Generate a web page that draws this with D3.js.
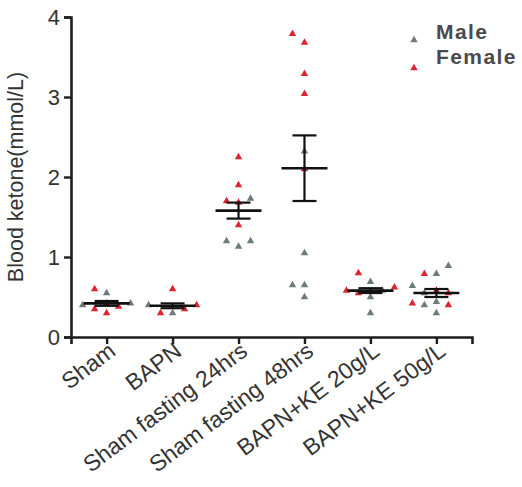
<!DOCTYPE html>
<html>
<head>
<meta charset="utf-8">
<script src="https://cdn.jsdelivr.net/npm/d3@7"></script>
<style>
  html, body { margin: 0; padding: 0; background: #fff; }
  svg { display: block; }
  text { font-family: "Liberation Sans", Arial, sans-serif; }
</style>
</head>
<body>
<svg id="chart" width="522" height="487"></svg>
<script>
// ---- data ----
const categories = ["Sham", "BAPN", "Sham fasting 24hrs", "Sham fasting 48hrs", "BAPN+KE 20g/L", "BAPN+KE 50g/L"];
const maleValues = [
  [0.55, 0.42, 0.40],
  [0.30, 0.40],
  [1.73, 1.20, 1.13, 1.20],
  [2.32, 1.05, 0.65, 0.65, 0.50],
  [0.69, 0.58, 0.50, 0.30],
  [0.89, 0.79, 0.64, 0.44, 0.40, 0.30, 0.55]
];
const femaleValues = [
  [0.60, 0.30, 0.35, 0.38, 0.42],
  [0.60, 0.35, 0.30, 0.40],
  [2.25, 1.90, 1.70, 1.68, 1.40],
  [3.79, 3.68, 3.29, 3.04, 2.10],
  [0.80, 0.62, 0.58, 0.55],
  [0.79, 0.58, 0.55, 0.42, 0.40]
];
const means = [0.42, 0.39, 1.58, 2.11, 0.58, 0.55];
const sems  = [0.03, 0.03, 0.10, 0.41, 0.03, 0.05];
const yTicks = [0, 1, 2, 3, 4];
const seriesNames = ["Male", "Female"];
const yTitle = "Blood ketone(mmol/L)";

// ---- styles ----
const colors = { Male: "#6d7c79", Female: "#dd2430" };
const axisColor = "#1e1e1e";
const textColor = "#333";

const svg = d3.select("#chart");
svg.append("rect").attr("width", 522).attr("height", 487).attr("fill", "#fff");

const x = d3.scalePoint().domain(categories).range([71, 472]).padding(0.54);
const y = d3.scaleLinear().domain([0, 4]).range([337, 17]);

const tri = d3.symbol().type(d3.symbolTriangle).size(24);

// ---- beeswarm-like layout computed from the data ----
const points = [];
categories.forEach((c, i) => {
  const pts = [];
  maleValues[i].forEach(v => pts.push({ cat: c, v, s: "Male" }));
  femaleValues[i].forEach(v => pts.push({ cat: c, v, s: "Female" }));
  pts.sort((a, b) => a.v - b.v);
  const placed = [];
  const step = 12;
  pts.forEach(p => {
    const py = y(p.v);
    p.py = py;
    p.px = x(c);
    for (const k of [0, -1, 1, -2, 2]) {
      const px = x(c) + k * step;
      const hit = placed.some(q => Math.abs(q.py - py) < 10 && Math.abs(q.px - px) < 10);
      if (!hit) { p.px = px; break; }
    }
    placed.push(p);
    points.push(p);
  });
});

const gPts = svg.append("g");
gPts.selectAll("path").data(points).enter().append("path")
  .attr("d", tri)
  .attr("transform", d => `translate(${d.px},${d.py})`)
  .attr("fill", d => colors[d.s]);

// ---- mean and SEM bars ----
const gStats = svg.append("g").attr("stroke", "#111").attr("fill", "none");
categories.forEach((c, i) => {
  const cx = x(c);
  const top = y(means[i] + sems[i]);
  const bot = y(means[i] - sems[i]);
  gStats.append("line").attr("x1", cx).attr("x2", cx).attr("y1", top).attr("y2", bot).attr("stroke-width", 2.2);
  gStats.append("line").attr("x1", cx - 12).attr("x2", cx + 12).attr("y1", top).attr("y2", top).attr("stroke-width", 2.2);
  gStats.append("line").attr("x1", cx - 12).attr("x2", cx + 12).attr("y1", bot).attr("y2", bot).attr("stroke-width", 2.2);
  gStats.append("line").attr("x1", cx - 23).attr("x2", cx + 23).attr("y1", y(means[i])).attr("y2", y(means[i])).attr("stroke-width", 2.6);
});

// ---- axes ----
const yAxis = svg.append("g").attr("transform", "translate(71,0)")
  .call(d3.axisLeft(y).tickValues(yTicks).tickFormat(d3.format("d")).tickSizeOuter(0).tickSize(7).tickPadding(4));
const xAxis = svg.append("g").attr("transform", "translate(0,337)")
  .call(d3.axisBottom(x).tickSizeOuter(0).tickSize(7));

[yAxis, xAxis].forEach(g => {
  g.select(".domain").attr("stroke", axisColor).attr("stroke-width", 2.6);
  g.selectAll(".tick line").attr("stroke", axisColor).attr("stroke-width", 2.4);
});
yAxis.selectAll(".tick text").attr("font-size", 22).attr("fill", textColor)
  .attr("font-family", "Liberation Sans, Arial, sans-serif");
xAxis.selectAll(".tick text")
  .attr("font-size", 23).attr("fill", textColor)
  .attr("font-family", "Liberation Sans, Arial, sans-serif")
  .attr("text-anchor", "end")
  .attr("dy", null)
  .attr("y", 0)
  .attr("transform", "translate(10,17) rotate(-37)");

// ---- y title ----
svg.append("text")
  .attr("transform", `translate(23,${(y(0) + y(4)) / 2}) rotate(-90)`)
  .attr("text-anchor", "middle")
  .attr("font-size", 21.5)
  .attr("fill", textColor)
  .text(yTitle);

// ---- legend ----
const leg = svg.append("g");
seriesNames.forEach((n, i) => {
  leg.append("path").attr("d", tri).attr("transform", `translate(414,${40 + i * 28})`).attr("fill", colors[n]);
  leg.append("text").attr("x", 436).attr("y", 32 + i * 25).attr("dy", "0.35em")
    .attr("font-size", 21).attr("font-weight", "bold").attr("letter-spacing", 1.4)
    .attr("fill", "#4a4a4a").text(n);
});
</script>
</body>
</html>
